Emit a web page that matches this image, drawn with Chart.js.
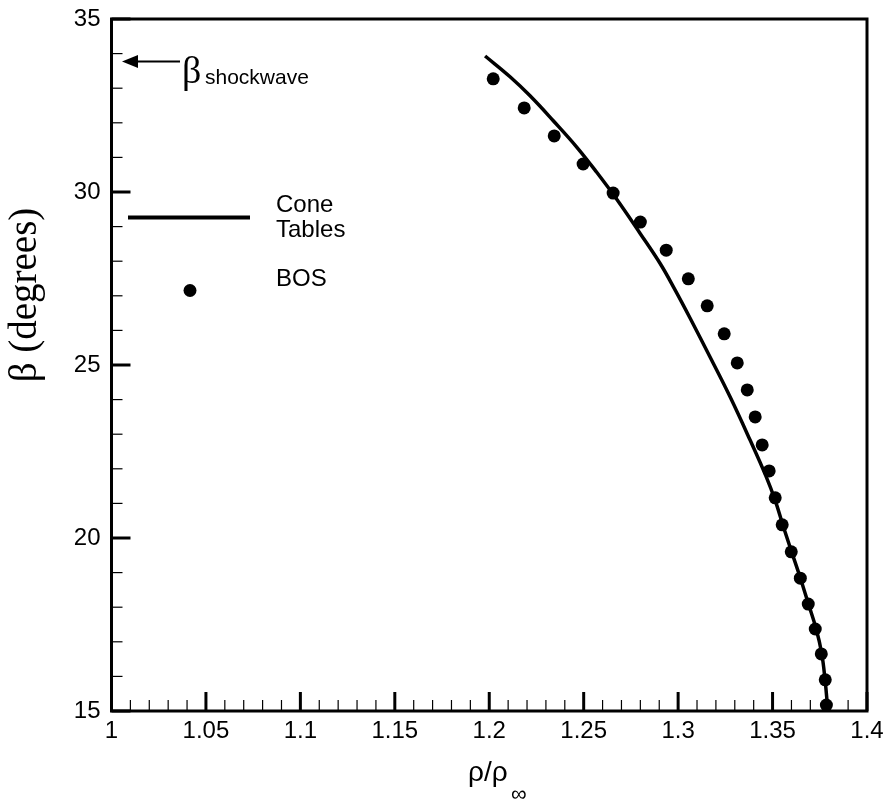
<html>
<head>
    <title>Shock angle vs density ratio</title>
    <script src="https://cdn.jsdelivr.net/npm/chart.js"></script>
    <style>
        body { margin: 0; background: #fff; }
        canvas { display: block; }
    </style>
</head>
<body>
    <canvas id="betaChart" width="886" height="802"></canvas>
    <script>
        // Cone Tables (solid curve)
        const coneRho = [1.1978, 1.2110, 1.2216, 1.2339, 1.2463, 1.2569, 1.2675, 1.2798, 1.2904, 1.2983,
                         1.3063, 1.3169, 1.3275, 1.3381, 1.3465, 1.3513, 1.3557, 1.3601, 1.3645, 1.3689,
                         1.3730, 1.3760, 1.3778, 1.3791, 1.3793];
        const coneBeta = [33.93, 33.33, 32.78, 32.06, 31.30, 30.57, 29.79, 28.81, 27.94, 27.18,
                          26.36, 25.23, 24.08, 22.83, 21.79, 21.10, 20.33, 19.60, 18.88, 18.11,
                          17.39, 16.67, 15.90, 15.12, 15.00];

        // BOS measurements (dots)
        const bosRho = [1.2021, 1.2185, 1.2344, 1.2497, 1.2656, 1.2800, 1.2937, 1.3054, 1.3154, 1.3244,
                        1.3313, 1.3366, 1.3408, 1.3445, 1.3482, 1.3514, 1.3551, 1.3599, 1.3647, 1.3689,
                        1.3726, 1.3758, 1.3779, 1.3785];
        const bosBeta = [33.27, 32.43, 31.62, 30.81, 29.97, 29.13, 28.32, 27.49, 26.71, 25.90,
                         25.06, 24.28, 23.50, 22.69, 21.94, 21.16, 20.38, 19.60, 18.84, 18.09,
                         17.37, 16.65, 15.90, 15.17];

        const xTicks = [1, 1.05, 1.1, 1.15, 1.2, 1.25, 1.3, 1.35, 1.4];
        const yTicks = [15, 20, 25, 30, 35];

        const SANS = '"Liberation Sans", Arial, sans-serif';
        const SERIF = '"Liberation Serif", "Times New Roman", serif';

        // frame, inward ticks, legend, annotation and axis titles
        const decorations = {
            id: 'decorations',
            afterDraw(chart) {
                const ctx = chart.ctx;
                const a = chart.chartArea;
                const xs = chart.scales.x, ys = chart.scales.y;
                ctx.save();
                ctx.strokeStyle = '#000';
                ctx.fillStyle = '#000';

                // y ticks (every 1, major every 5)
                for (let v = 15; v <= 35; v++) {
                    const py = ys.getPixelForValue(v);
                    const major = v % 5 === 0;
                    ctx.lineWidth = major ? 3 : 1.2;
                    ctx.beginPath();
                    ctx.moveTo(a.left, py);
                    ctx.lineTo(a.left + (major ? 19 : 11), py);
                    ctx.stroke();
                }
                // x ticks (every 0.01, major every 0.05)
                for (let i = 0; i <= 40; i++) {
                    const px = xs.getPixelForValue(1 + i / 100);
                    const major = i % 5 === 0;
                    ctx.lineWidth = major ? 3 : 1.2;
                    ctx.beginPath();
                    ctx.moveTo(px, a.bottom);
                    ctx.lineTo(px, a.bottom - (major ? 19 : 11));
                    ctx.stroke();
                }

                // frame
                ctx.lineWidth = 3;
                ctx.strokeRect(a.left, a.top, a.right - a.left, a.bottom - a.top);

                // legend
                ctx.lineWidth = 4;
                ctx.beginPath();
                ctx.moveTo(128, 217.5);
                ctx.lineTo(250, 217.5);
                ctx.stroke();
                ctx.beginPath();
                ctx.arc(190, 290.5, 6.5, 0, Math.PI * 2);
                ctx.fill();
                ctx.font = '24px ' + SANS;
                ctx.textAlign = 'left';
                ctx.textBaseline = 'middle';
                ctx.fillText('Cone', 276, 205);
                ctx.fillText('Tables', 276, 230);
                ctx.fillText('BOS', 276, 279);

                // shockwave arrow
                const ay = ys.getPixelForValue(33.77);
                ctx.lineWidth = 2;
                ctx.beginPath();
                ctx.moveTo(136, ay);
                ctx.lineTo(180, ay);
                ctx.stroke();
                ctx.beginPath();
                ctx.moveTo(122, ay);
                ctx.lineTo(138, ay - 6.5);
                ctx.lineTo(138, ay + 6.5);
                ctx.closePath();
                ctx.fill();
                ctx.textBaseline = 'alphabetic';
                ctx.font = '38px ' + SERIF;
                ctx.fillText('β', 182, 83);
                ctx.font = '21px ' + SANS;
                ctx.fillText('shockwave', 205, 84);

                // x title: rho / rho_inf
                ctx.font = '28px ' + SANS;
                ctx.fillText('ρ/ρ', 468, 781);
                ctx.font = '22px ' + SANS;
                ctx.fillText('∞', 511, 801);

                // y title
                ctx.translate(26, 295);
                ctx.rotate(-Math.PI / 2);
                ctx.textAlign = 'center';
                ctx.textBaseline = 'middle';
                ctx.font = '39px ' + SERIF;
                ctx.fillText('β (degrees)', 0, 0);
                ctx.restore();
            }
        };

        new Chart(document.getElementById('betaChart').getContext('2d'), {
            type: 'scatter',
            data: {
                datasets: [{
                    label: 'Cone Tables',
                    data: coneRho.map((x, i) => ({ x: x, y: coneBeta[i] })),
                    showLine: true,
                    borderColor: '#000',
                    borderWidth: 3.5,
                    pointRadius: 0,
                    tension: 0.4,
                    fill: false
                }, {
                    label: 'BOS',
                    data: bosRho.map((x, i) => ({ x: x, y: bosBeta[i] })),
                    showLine: false,
                    pointRadius: 6.5,
                    pointBackgroundColor: '#000',
                    pointBorderWidth: 0
                }]
            },
            options: {
                responsive: false,
                animation: false,
                devicePixelRatio: 1,
                layout: { padding: { left: 0, right: 19, top: 19, bottom: 0 } },
                plugins: { legend: { display: false }, tooltip: { enabled: false } },
                scales: {
                    x: {
                        type: 'linear',
                        min: 1, max: 1.4,
                        afterBuildTicks: s => { s.ticks = xTicks.map(v => ({ value: v })); },
                        afterFit: s => { s.height = 91; s.paddingLeft = 0; s.paddingRight = 0; },
                        grid: { display: false, drawTicks: false },
                        border: { display: false },
                        ticks: {
                            color: '#000',
                            padding: 6,
                            maxRotation: 0,
                            font: { family: SANS, size: 24 },
                            callback: v => String(Math.round(v * 100) / 100)
                        }
                    },
                    y: {
                        type: 'linear',
                        min: 15, max: 35,
                        afterBuildTicks: s => { s.ticks = yTicks.map(v => ({ value: v })); },
                        afterFit: s => { s.width = 111.5; s.paddingTop = 0; s.paddingBottom = 0; },
                        grid: { display: false, drawTicks: false },
                        border: { display: false },
                        ticks: {
                            color: '#000',
                            padding: 11,
                            font: { family: SANS, size: 24 }
                        }
                    }
                }
            },
            plugins: [decorations]
        });
    </script>
</body>
</html>
